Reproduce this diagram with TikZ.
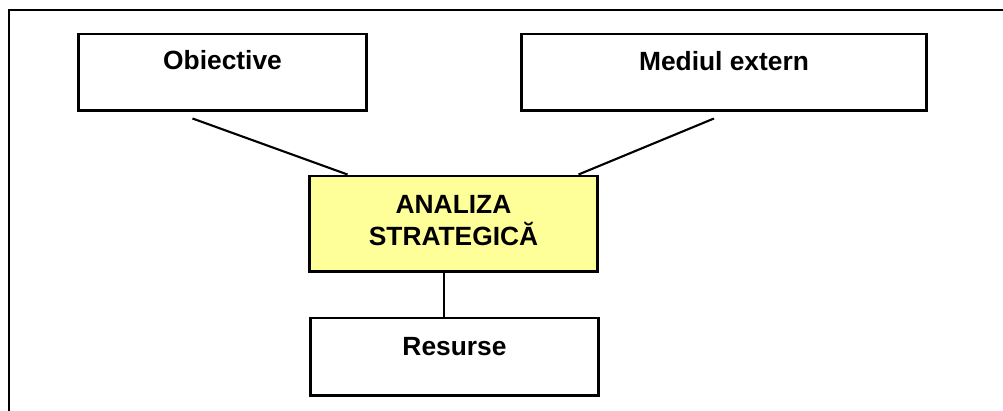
\documentclass[tikz,border=0pt]{standalone}
\usepackage{fontspec}
\setmainfont{Liberation Sans}
\usetikzlibrary{calc}
\definecolor{paleyellow}{RGB}{255,255,153}
\tikzset{
  box/.style={draw,line width=1.7pt,minimum height=1.54cm,inner sep=0pt},
  lbl/.style={font=\fontsize{15}{18}\selectfont\bfseries,align=center,inner sep=0pt},
  link/.style={line width=1.2pt}
}
\begin{document}
\begin{tikzpicture}[x=0.02cm,y=-0.02cm]
  \useasboundingbox (0,0) rectangle (1003,411);
  \draw[line width=1.6pt] (9,411) -- (9,10) -- (1003,10);
  \node[box,minimum width=5.78cm] (ob) at (222.5,72.5) {};
  \node[box,minimum width=8.12cm] (me) at (724,72.5) {};
  \node[box,minimum width=5.78cm,minimum height=1.92cm,fill=paleyellow] (an) at (453.5,224) {};
  \node[box,minimum width=5.78cm,minimum height=1.56cm] (re) at (454.5,357) {};
  \node[lbl] (obt) at ([yshift=-0.56cm]ob.north) {Obiective};
  \node[lbl] (met) at ([yshift=-0.58cm]me.north) {Mediul extern};
  \node[lbl] (ant) at ([yshift=0.07cm]an.center) {ANALIZA\\STRATEGICĂ};
  \node[lbl] (ret) at ([yshift=-0.6cm]re.north) {Resurse};
  \draw[link] ($(ob.south)+(-30,6)$) -- ($(an.north)+(-106,0)$);
  \draw[link] ($(me.south)+(-10,6)$) -- ($(an.north)+(125,0)$);
  \draw[link] (an.south -| 444,0) -- (re.north -| 444,0);
\end{tikzpicture}
\end{document}
